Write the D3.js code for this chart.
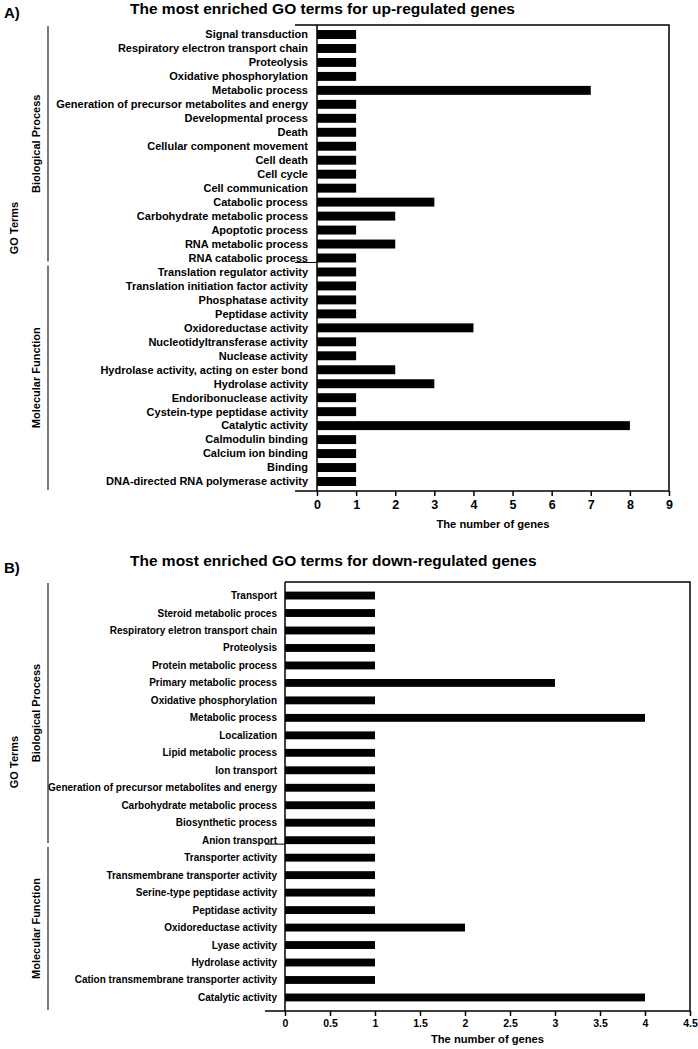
<!DOCTYPE html>
<html>
<head>
<meta charset="utf-8">
<script src="https://cdn.jsdelivr.net/npm/d3@7"></script>
<style>
  body { margin: 0; background: #fff; }
  svg text { font-family: "Liberation Sans", Arial, sans-serif; font-weight: bold; fill: #000; }
</style>
</head>
<body>
<script>
// panel A data (up-regulated)
var upBioTerms = ["Signal transduction", "Respiratory electron transport chain", "Proteolysis",
  "Oxidative phosphorylation", "Metabolic process", "Generation of precursor metabolites and energy",
  "Developmental process", "Death", "Cellular component movement", "Cell death", "Cell cycle",
  "Cell communication", "Catabolic process", "Carbohydrate metabolic process", "Apoptotic process",
  "RNA metabolic process", "RNA catabolic process"];
var upBioCounts = [1, 1, 1, 1, 7, 1, 1, 1, 1, 1, 1, 1, 3, 2, 1, 2, 1];
var upMolTerms = ["Translation regulator activity", "Translation initiation factor activity",
  "Phosphatase activity", "Peptidase activity", "Oxidoreductase activity",
  "Nucleotidyltransferase activity", "Nuclease activity", "Hydrolase activity, acting on ester bond",
  "Hydrolase activity", "Endoribonuclease activity", "Cystein-type peptidase activity",
  "Catalytic activity", "Calmodulin binding", "Calcium ion binding", "Binding",
  "DNA-directed RNA polymerase activity"];
var upMolCounts = [1, 1, 1, 1, 4, 1, 1, 2, 3, 1, 1, 8, 1, 1, 1, 1];
var upTicks = [0, 1, 2, 3, 4, 5, 6, 7, 8, 9];

// panel B data (down-regulated)
var downBioTerms = ["Transport", "Steroid metabolic proces", "Respiratory eletron transport chain",
  "Proteolysis", "Protein metabolic process", "Primary metabolic process", "Oxidative phosphorylation",
  "Metabolic process", "Localization", "Lipid metabolic process", "Ion transport",
  "Generation of precursor metabolites and energy", "Carbohydrate metabolic process",
  "Biosynthetic process", "Anion transport"];
var downBioCounts = [1, 1, 1, 1, 1, 3, 1, 4, 1, 1, 1, 1, 1, 1, 1];
var downMolTerms = ["Transporter activity", "Transmembrane transporter activity",
  "Serine-type peptidase activity", "Peptidase activity", "Oxidoreductase activity", "Lyase activity",
  "Hydrolase activity", "Cation transmembrane transporter activity", "Catalytic activity"];
var downMolCounts = [1, 1, 1, 1, 2, 1, 1, 1, 4];
var downTicks = [0, 0.5, 1, 1.5, 2, 2.5, 3, 3.5, 4, 4.5];

var svg = d3.select("body").append("svg")
  .attr("width", 698)
  .attr("height", 1049);

function drawPanel(p) {
  var terms = p.bioTerms.concat(p.molTerms);
  var counts = p.bioCounts.concat(p.molCounts);
  var data = terms.map(function(t, i) { return {term: t, n: counts[i]}; });

  var x = d3.scaleLinear().domain([0, d3.max(p.ticks)]).range([p.left, p.right]);
  var y = d3.scaleBand().domain(terms).range([p.top, p.bottom]).padding(p.pad);
  var step = y.step();

  // panel letter + title
  svg.append("text").attr("x", 4).attr("y", p.letterY)
    .attr("font-size", 15).text(p.letter);
  svg.append("text").attr("x", p.titleX).attr("y", p.titleY)
    .attr("font-size", 15.5).text(p.title);

  // box: top and right sides
  svg.append("path")
    .attr("d", "M" + p.boxStart + "," + p.top + "H" + p.right + "V" + p.bottom)
    .attr("fill", "none").attr("stroke", "#000").attr("stroke-width", 1.5);

  // bars
  svg.selectAll(null).data(data).enter().append("rect")
    .attr("x", x(0))
    .attr("y", function(d) { return y(d.term); })
    .attr("width", function(d) { return x(d.n) - x(0); })
    .attr("height", y.bandwidth())
    .attr("fill", "#000");

  // y axis line + term labels
  svg.append("line").attr("x1", p.left).attr("x2", p.left)
    .attr("y1", p.top).attr("y2", p.bottom)
    .attr("stroke", "#000").attr("stroke-width", 1.5);
  svg.selectAll(null).data(terms).enter().append("text")
    .attr("x", p.left - p.labelGap)
    .attr("y", function(t) { return y(t) + y.bandwidth() / 2; })
    .attr("dy", "0.35em")
    .attr("text-anchor", "end")
    .attr("font-size", p.labelSize)
    .text(function(t) { return t; });

  // separator between the two groups
  var sepY = p.top + step * p.bioTerms.length;
  svg.append("line").attr("x1", p.lineStart).attr("x2", p.left)
    .attr("y1", sepY).attr("y2", sepY)
    .attr("stroke", "#000").attr("stroke-width", 1);

  // x axis
  var xAxis = svg.append("g")
    .attr("transform", "translate(0," + p.bottom + ")")
    .call(d3.axisBottom(x).tickValues(p.ticks).tickSize(5).tickPadding(4)
      .tickFormat(function(d) { return String(d); }));
  xAxis.select(".domain").remove();
  xAxis.selectAll(".tick line").attr("stroke-width", 1.5);
  xAxis.selectAll(".tick text")
    .attr("font-size", p.tickSize)
    .attr("font-family", "Liberation Sans, Arial, sans-serif")
    .attr("font-weight", "bold");
  svg.append("line").attr("x1", p.lineStart).attr("x2", p.right)
    .attr("y1", p.bottom).attr("y2", p.bottom)
    .attr("stroke", "#000").attr("stroke-width", 1.5);
  svg.append("text")
    .attr("x", (p.left + p.right) / 2).attr("y", p.bottom + p.xTitleGap)
    .attr("text-anchor", "middle").attr("font-size", 11.2)
    .text("The number of genes");

  // group brackets and labels
  var groups = [
    {name: "Biological Process", y0: p.top + 1, y1: sepY - 1},
    {name: "Molecular Function", y0: sepY + 3, y1: p.bottom - 1}
  ];
  groups.forEach(function(g) {
    svg.append("line").attr("x1", p.bracketX).attr("x2", p.bracketX)
      .attr("y1", g.y0).attr("y2", g.y1)
      .attr("stroke", "#222").attr("stroke-width", 1.2);
    svg.append("text")
      .attr("transform", "translate(" + (p.bracketX - 8) + "," + ((g.y0 + g.y1) / 2) + ") rotate(-90)")
      .attr("text-anchor", "middle")
      .attr("font-size", 11)
      .text(g.name);
  });
  svg.append("text")
    .attr("transform", "translate(" + (p.bracketX - 30) + "," + p.goY + ") rotate(-90)")
    .attr("text-anchor", "middle")
    .attr("font-size", 11)
    .text("GO Terms");
}

drawPanel({
  letter: "A)", letterY: 18, title: "The most enriched GO terms for up-regulated genes", titleX: 130, titleY: 14,
  bioTerms: upBioTerms, bioCounts: upBioCounts, molTerms: upMolTerms, molCounts: upMolCounts,
  ticks: upTicks, left: 317, right: 669, top: 25, bottom: 491, lineStart: 295, boxStart: 295,
  pad: 0.36, labelSize: 11, labelGap: 9, tickSize: 12.5, xTitleGap: 37, bracketX: 48, goY: 228
});

drawPanel({
  letter: "B)", letterY: 573, title: "The most enriched GO terms for down-regulated genes", titleX: 130, titleY: 566,
  bioTerms: downBioTerms, bioCounts: downBioCounts, molTerms: downMolTerms, molCounts: downMolCounts,
  ticks: downTicks, left: 285, right: 690, top: 582, bottom: 1011, lineStart: 265, boxStart: 285,
  pad: 0.55, labelSize: 10, labelGap: 8, tickSize: 10.5, xTitleGap: 32, bracketX: 48, goY: 762
});
</script>
</body>
</html>
